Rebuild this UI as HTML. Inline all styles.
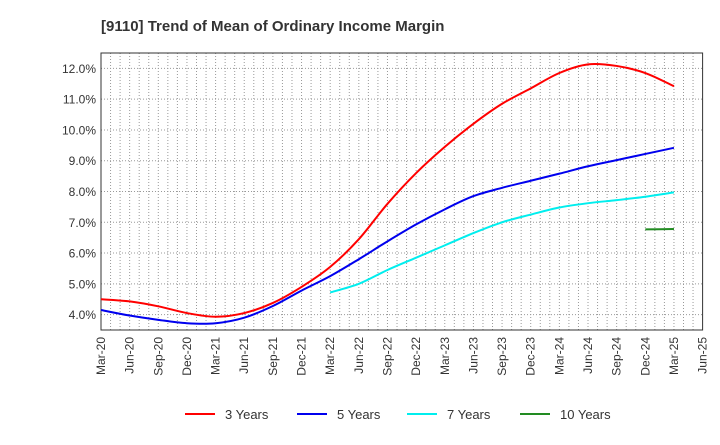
<!DOCTYPE html>
<html><head><meta charset="utf-8"><style>
body{margin:0;background:#fff;font-family:"Liberation Sans",sans-serif}
svg text{font-family:"Liberation Sans",sans-serif}
</style></head><body>
<svg id="chart" width="720" height="440">
<text x="101" y="31" font-size="15" font-weight="bold" fill="#333">[9110]  Trend of Mean of Ordinary Income Margin</text>
<g id="grid"></g><g id="axes"></g><g id="series"></g><g id="legend"></g>
</svg>
<script>
const quarters=["Mar-20","Jun-20","Sep-20","Dec-20","Mar-21","Jun-21","Sep-21","Dec-21","Mar-22","Jun-22","Sep-22","Dec-22","Mar-23","Jun-23","Sep-23","Dec-23","Mar-24","Jun-24","Sep-24","Dec-24","Mar-25","Jun-25"];
const yTicks=[4,5,6,7,8,9,10,11,12];
const s3=[4.5,4.43,4.27,4.05,3.93,4.05,4.38,4.9,5.55,6.45,7.6,8.6,9.45,10.2,10.85,11.35,11.85,12.13,12.08,11.85,11.42];
const s5=[4.15,3.97,3.83,3.72,3.72,3.9,4.28,4.78,5.25,5.8,6.38,6.93,7.42,7.85,8.12,8.35,8.58,8.82,9.02,9.22,9.42];
const s7=[null,null,null,null,null,null,null,null,4.72,5.0,5.45,5.85,6.25,6.65,7.0,7.25,7.48,7.62,7.72,7.83,7.97];
const s10=[null,null,null,null,null,null,null,null,null,null,null,null,null,null,null,null,null,null,null,6.77,6.78];
const L=101,R=702.6,T=53,B=330,yMin=3.5,yMax=12.5;
const NS="http://www.w3.org/2000/svg";
const x=i=>L+(R-L)*i/(quarters.length-1);
const y=v=>B-(v-yMin)/(yMax-yMin)*(B-T);
function mk(tag,attrs,parent){const e=document.createElementNS(NS,tag);for(const k in attrs)e.setAttribute(k,attrs[k]);document.getElementById(parent).appendChild(e);return e;}
// vertical monthly grid
for(let m=1;m<(quarters.length-1)*3;m++){const xx=L+(R-L)*m/((quarters.length-1)*3);
const g=mk("line",{x1:xx,x2:xx,y1:T,y2:B,stroke:"#999","stroke-width":1,"stroke-dasharray":"1,2"},"grid");

}
yTicks.forEach(v=>{const g=mk("line",{x1:L,x2:R,y1:y(v),y2:y(v),stroke:"#999","stroke-width":1,"stroke-dasharray":"1,2"},"grid");


const t=mk("text",{x:L-5,y:y(v)+4.5,"text-anchor":"end","font-size":12,fill:"#333"},"axes");t.textContent=v.toFixed(1)+"%";

});
quarters.forEach((q,i)=>{const t=mk("text",{transform:`translate(${x(i)+4},337) rotate(-90)`,"text-anchor":"end","font-size":12,fill:"#333"},"axes");t.textContent=q;

});
const fr=mk("rect",{x:L,y:T,width:R-L,height:B-T,fill:"none",stroke:"#333","stroke-width":1},"axes");


function path(data){const pts=[];data.forEach((v,i)=>{if(v!=null)pts.push([x(i),y(v)]);});
let d=`M${pts[0][0]},${pts[0][1]}`;
for(let i=0;i<pts.length-1;i++){const p0=pts[i-1]||pts[i],p1=pts[i],p2=pts[i+1],p3=pts[i+2]||p2;
d+=` C${p1[0]+(p2[0]-p0[0])/6},${p1[1]+(p2[1]-p0[1])/6} ${p2[0]-(p3[0]-p1[0])/6},${p2[1]-(p3[1]-p1[1])/6} ${p2[0]},${p2[1]}`;}
return d;}
const series=[["3 Years",s3,"#ff0000"],["5 Years",s5,"#0000ee"],["7 Years",s7,"#00eeee"],["10 Years",s10,"#228b22"]];
const lx=[185,297,407,520];
series.forEach((s,k)=>{const p=mk("path",{d:path(s[1]),fill:"none",stroke:s[2],"stroke-width":2},"series");


const ll=mk("line",{x1:lx[k],x2:lx[k]+30,y1:414,y2:414,stroke:s[2],"stroke-width":2},"legend");


const t=mk("text",{x:lx[k]+40,y:419,"font-size":13,fill:"#333"},"legend");t.textContent=s[0];

});
</script>
</body></html>
